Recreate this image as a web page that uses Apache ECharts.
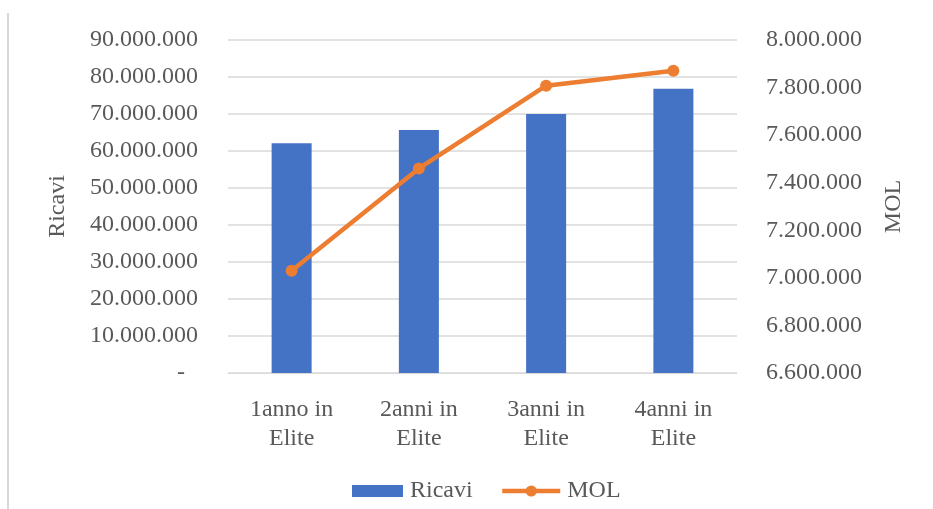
<!DOCTYPE html>
<html>
<head>
<meta charset="utf-8">
<script src="https://cdn.jsdelivr.net/npm/echarts@6/dist/echarts.min.js"></script>
<style>
  html, body { margin: 0; padding: 0; background: #ffffff; }
  #chart { width: 933px; height: 509px; }
</style>
</head>
<body>
<div id="chart"></div>
<script>
// Categories and series values
const categories = ['1anno in\nElite', '2anni in\nElite', '3anni in\nElite', '4anni in\nElite'];
const ricavi = [62100000, 65700000, 70000000, 76800000];
const mol = [7030000, 7460000, 7808000, 7871000];

// Axis ranges
const ricaviAxis = { min: 0, max: 90000000, interval: 10000000 };
const molAxis = { min: 6600000, max: 8000000, interval: 200000 };

const FONT = '"Liberation Serif", "DejaVu Serif", serif';
const TEXT = '#595959';
const GRID = '#d9d9d9';
const BLUE = '#4472C4';
const ORANGE = '#ED7D31';

function dotted(v) {
  return String(Math.round(v)).replace(/\B(?=(\d{3})+(?!\d))/g, '.');
}

const legendText = { fontFamily: FONT, fontSize: 24, color: TEXT, padding: [0, 0, 0, 2] };

const chart = echarts.init(document.getElementById('chart'), null, { renderer: 'canvas' });
chart.setOption({
  animation: false,
  backgroundColor: '#ffffff',
  textStyle: { fontFamily: FONT, color: TEXT },
  graphic: [{
    type: 'line',
    shape: { x1: 8, y1: 13, x2: 8, y2: 509 },
    style: { stroke: GRID, lineWidth: 2 }
  }],
  grid: { left: 228, right: 196, top: 40, bottom: 136 },
  legend: [{
    left: 347,
    top: 474,
    itemWidth: 51,
    itemHeight: 12,
    textStyle: legendText,
    data: [{ name: 'Ricavi', icon: 'rect' }]
  }, {
    left: 495,
    top: 474,
    itemWidth: 58,
    itemHeight: 14,
    textStyle: legendText,
    lineStyle: { width: 4.5 },
    data: [{ name: 'MOL', lineStyle: { width: 4.5 } }]
  }],
  xAxis: {
    type: 'category',
    data: categories,
    axisLine: { lineStyle: { color: GRID, width: 1 } },
    axisTick: { show: false },
    axisLabel: {
      fontFamily: FONT, fontSize: 24, color: TEXT,
      lineHeight: 29, margin: 22
    }
  },
  yAxis: [{
    type: 'value',
    name: 'Ricavi',
    nameLocation: 'middle',
    nameGap: 158,
    nameRotate: 90,
    nameTextStyle: { fontFamily: FONT, fontSize: 24, color: TEXT },
    min: ricaviAxis.min, max: ricaviAxis.max, interval: ricaviAxis.interval,
    axisLine: { show: false },
    axisTick: { show: false },
    splitLine: { lineStyle: { color: GRID, width: 1.5 } },
    axisLabel: {
      fontFamily: FONT, fontSize: 24, color: TEXT, margin: 30,
      formatter: v => v === 0 ? '{z|-}' : dotted(v),
      rich: { z: { fontFamily: FONT, fontSize: 24, color: TEXT, padding: [0, 13, 0, 0] } }
    }
  }, {
    type: 'value',
    name: 'MOL',
    nameLocation: 'middle',
    nameGap: 145,
    nameRotate: 90,
    nameTextStyle: { fontFamily: FONT, fontSize: 24, color: TEXT },
    min: molAxis.min, max: molAxis.max, interval: molAxis.interval,
    axisLine: { show: false },
    axisTick: { show: false },
    splitLine: { show: false },
    axisLabel: {
      fontFamily: FONT, fontSize: 24, color: TEXT, margin: 29,
      formatter: v => dotted(v)
    }
  }],
  series: [{
    name: 'Ricavi',
    type: 'bar',
    yAxisIndex: 0,
    data: ricavi,
    barWidth: 40,
    itemStyle: { color: BLUE }
  }, {
    name: 'MOL',
    type: 'line',
    yAxisIndex: 1,
    data: mol,
    symbol: 'circle',
    symbolSize: 12,
    lineStyle: { color: ORANGE, width: 4.5 },
    itemStyle: { color: ORANGE }
  }]
});
</script>
</body>
</html>
